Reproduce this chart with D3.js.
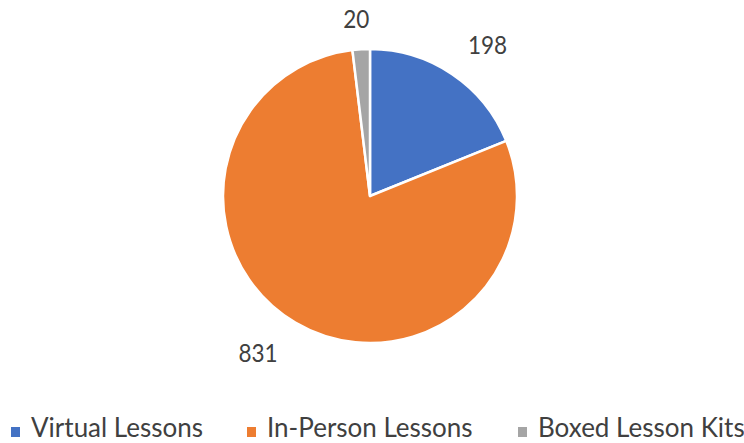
<!DOCTYPE html>
<html>
<head>
<meta charset="utf-8">
<script src="https://cdn.jsdelivr.net/npm/d3@7"></script>
<style>
  body { margin: 0; background: white; }
  text { font-family: Lato, "Open Sans", sans-serif; fill: #404040; }
</style>
</head>
<body>
<script>
var categories = ["Virtual Lessons", "In-Person Lessons", "Boxed Lesson Kits"];
var values = [198, 831, 20];
var colors = ["#4472C4", "#ED7D31", "#A5A5A5"];

var width = 744, height = 443;
var cx = 370, cy = 196, radius = 147;

// label placement: radius multiplier and angle nudge (degrees) per slice
var labelRadius = [1.30, 1.31, 1.21];
var labelNudge = [4, 5, -1];

var svg = d3.select("body")
  .append("svg")
  .attr("width", width)
  .attr("height", height);

var pie = d3.pie().sort(null).value(function(d) { return d; });
var arcs = pie(values);

var arc = d3.arc().innerRadius(0).outerRadius(radius);

var g = svg.append("g").attr("transform", "translate(" + cx + "," + cy + ")");

g.selectAll("path")
  .data(arcs)
  .enter()
  .append("path")
  .attr("d", arc)
  .attr("fill", function(d, i) { return colors[i]; })
  .attr("stroke", "white")
  .attr("stroke-width", 2.5)
  .attr("stroke-linejoin", "round");

// data labels outside the pie
g.selectAll("text.lbl")
  .data(arcs)
  .enter()
  .append("text")
  .attr("class", "lbl")
  .attr("transform", function(d, i) {
    var r = radius * labelRadius[i];
    var a = (d.startAngle + d.endAngle) / 2 + labelNudge[i] * Math.PI / 180;
    return "translate(" + (Math.sin(a) * r) + "," + (-Math.cos(a) * r) + ") scale(0.9,1)";
  })
  .attr("text-anchor", "middle")
  .attr("dy", "0.36em")
  .style("font-size", "25px")
  .text(function(d) { return d.data; });

// legend along the bottom
var legendX = [11, 247, 518];
var legend = svg.selectAll("g.legend")
  .data(categories)
  .enter()
  .append("g")
  .attr("class", "legend")
  .attr("transform", function(d, i) { return "translate(" + legendX[i] + ",437)"; });

legend.append("rect")
  .attr("x", 0).attr("y", -10)
  .attr("width", 9).attr("height", 10)
  .attr("fill", function(d, i) { return colors[i]; });

legend.append("text")
  .attr("x", 20)
  .style("font-size", "26px")
  .text(function(d) { return d; });
</script>
</body>
</html>
